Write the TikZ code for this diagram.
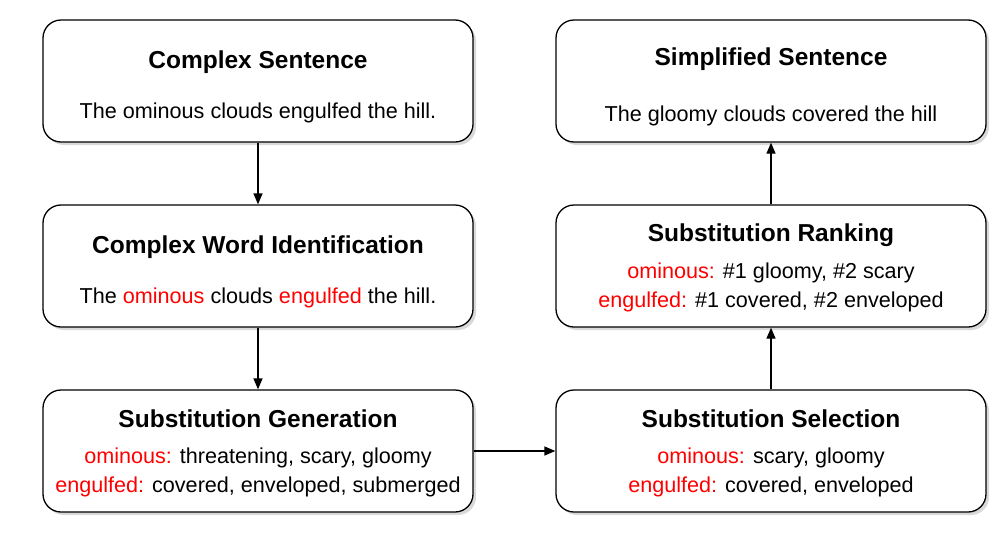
\documentclass[tikz,border=0pt]{standalone}
\usepackage{fontspec}
\setmainfont{Liberation Sans}
\usetikzlibrary{arrows.meta,shadows}
\definecolor{redw}{RGB}{255,0,0}
\begin{document}
\begin{tikzpicture}[x=1pt,y=-1pt,
  box/.style={draw=black,line width=1.3pt,rounded corners=18pt,fill=white,minimum width=430pt,minimum height=122pt,inner sep=0pt,
    drop shadow={shadow xshift=3pt,shadow yshift=-3pt,opacity=0.25,fill=black!60}},
  ttl/.style={font=\bfseries\fontsize{24.5}{28}\selectfont,inner sep=0pt},
  txt/.style={font=\fontsize{21.6}{25}\selectfont,inner sep=0pt},
  arr/.style={line width=1.3pt,-{Triangle[length=11pt,width=9pt]}}]
\useasboundingbox (0,0) rectangle (1008,544);
\node[box] (cs) at (258,81) {};
\node[box] (cwi) at (258,266) {};
\node[box] (sg) at (258,451) {};
\node[box] (simp) at (771,81) {};
\node[box] (sr) at (771,266) {};
\node[box] (ss) at (771,451) {};
\node[ttl] (cst) at (258,62) {Complex Sentence};
\node[txt] (csb) at (258,113) {The ominous clouds engulfed the hill.};
\node[ttl] (cwit) at (258,247) {Complex Word Identification};
\node[txt] (cwib) at (258,298) {The \textcolor{redw}{ominous} clouds \textcolor{redw}{engulfed} the hill.};
\node[ttl] (sgt) at (258,419) {Substitution Generation};
\node[txt] (sg1) at (258,458) {\textcolor{redw}{ominous:} threatening, scary, gloomy};
\node[txt] (sg2) at (258,487) {\textcolor{redw}{engulfed:} covered, enveloped, submerged};
\node[ttl] (simpt) at (771,59) {Simplified Sentence};
\node[txt] (simpb) at (771,116) {The gloomy clouds covered the hill};
\node[ttl] (srt) at (771,235) {Substitution Ranking};
\node[txt] (sr1) at (771,273) {\textcolor{redw}{ominous:} \#1 gloomy, \#2 scary};
\node[txt] (sr2) at (771,302) {\textcolor{redw}{engulfed:} \#1 covered, \#2 enveloped};
\node[ttl] (sst) at (771,419) {Substitution Selection};
\node[txt] (ss1) at (771,458) {\textcolor{redw}{ominous:} scary, gloomy};
\node[txt] (ss2) at (771,487) {\textcolor{redw}{engulfed:} covered, enveloped};
\draw[arr] (cs) -- (cwi);
\draw[arr] (cwi) -- (sg);
\draw[arr] (sg) -- (ss);
\draw[arr] (ss) -- (sr);
\draw[arr] (sr) -- (simp);
\end{tikzpicture}
\end{document}
